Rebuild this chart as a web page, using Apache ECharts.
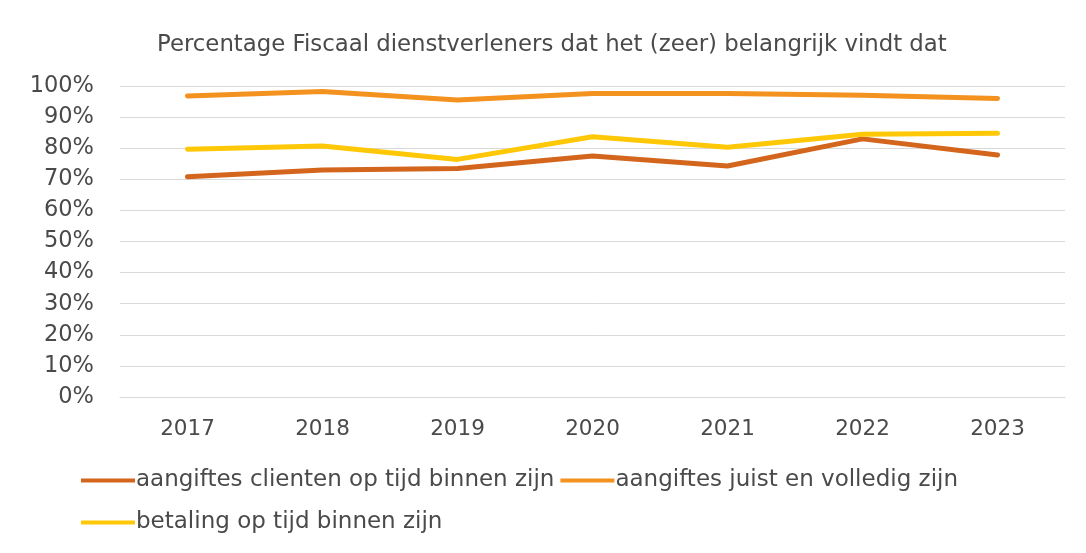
<!DOCTYPE html>
<html>
<head>
<meta charset="utf-8">
<script src="https://cdn.jsdelivr.net/npm/echarts@6/dist/echarts.min.js"></script>
<style>
  html, body { margin: 0; padding: 0; background: #fff; }
  #chart { width: 1086px; height: 553px; }
</style>
</head>
<body>
<div id="chart"></div>
<script>
// data
const years = ["2017", "2018", "2019", "2020", "2021", "2022", "2023"]
const opTijd = [70.8, 73.0, 73.5, 77.5, 74.3, 83.0, 77.8]
const juistVolledig = [96.8, 98.2, 95.5, 97.6, 97.6, 97.0, 96.0]
const betaling = [79.7, 80.7, 76.4, 83.7, 80.3, 84.5, 84.8]
const names = [
  "aangiftes clienten op tijd binnen zijn",
  "aangiftes juist en volledig zijn",
  "betaling op tijd binnen zijn",
]
const colors = ["#d4651c", "#f4921f", "#ffc807"]

const font = "DejaVu Sans"
const textColor = "#4a4a4a"

const makeLine = (name, data, color) => ({
  name,
  type: "line",
  data,
  symbol: "none",
  lineStyle: { width: 5, color, cap: "round", join: "round" },
  itemStyle: { color },
})

const legendBase = {
  orient: "horizontal",
  itemWidth: 54,
  itemHeight: 4,
  itemGap: 6,
  icon: "rect",
  textStyle: { fontFamily: font, fontSize: 23, color: textColor, padding: [0, 0, 0, -4] },
}

const chart = echarts.init(document.getElementById("chart"))
chart.setOption({
  backgroundColor: "#fff",
  animation: false,
  title: {
    text: "Percentage Fiscaal dienstverleners dat het (zeer) belangrijk vindt dat",
    left: 152,
    top: 29,
    textStyle: { fontFamily: font, fontSize: 22.8, fontWeight: "normal", color: textColor },
  },
  legend: [
    Object.assign({}, legendBase, { left: 76, top: 464, data: [names[0], names[1]] }),
    Object.assign({}, legendBase, { left: 76, top: 506, data: [names[2]] }),
  ],
  grid: { left: 120, right: 21, top: 86, bottom: 156 },
  xAxis: {
    type: "category",
    data: years,
    boundaryGap: true,
    axisLine: { show: true, lineStyle: { color: "#d9d9d9", width: 1 } },
    axisTick: { show: false },
    axisLabel: { fontFamily: font, fontSize: 21.5, color: textColor, margin: 21 },
  },
  yAxis: {
    type: "value",
    min: 0,
    max: 100,
    interval: 10,
    axisLine: { show: false },
    axisTick: { show: false },
    axisLabel: { fontFamily: font, fontSize: 22.5, color: textColor, margin: 26, formatter: "{value}%" },
    splitLine: { lineStyle: { color: "#d9d9d9", width: 1 } },
  },
  series: [
    makeLine(names[0], opTijd, colors[0]),
    makeLine(names[1], juistVolledig, colors[1]),
    makeLine(names[2], betaling, colors[2]),
  ],
})
</script>
</body>
</html>
